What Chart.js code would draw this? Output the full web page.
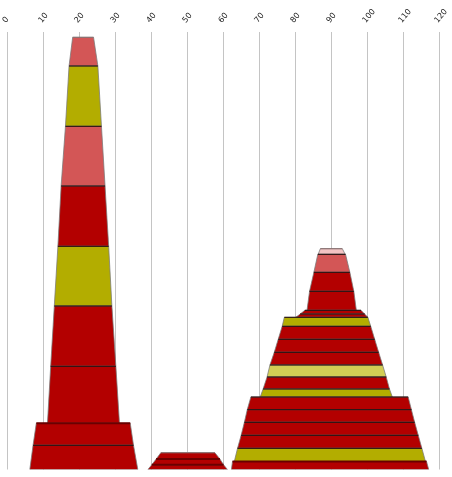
<!DOCTYPE html>
<html>
<head>
<meta charset="utf-8">
<script src="https://cdn.jsdelivr.net/npm/chart.js@4/dist/chart.umd.min.js"></script>
<style>
  html, body { margin: 0; padding: 0; background: #fff; }
  #wrap { width: 452px; height: 477px; }
</style>
</head>
<body>
<div id="wrap"><canvas id="chart" width="452" height="477"></canvas></div>
<script>
// top axis
const xMin = 0;
const xMax = 120;
const xStep = 10;

// every tier is one tapered block; values go bottom -> top
// heights of the layer boundaries
const tierLevels = [
  [0, 24.2, 46.2],
  [46.2, 103.2, 163.5, 223.2, 283.5, 343.2, 403.5, 432.2],
  [0, 4.8, 10.5, 16.8],
  [0, 8],
  [8, 21.2, 34.2, 47.2, 59.8, 72.5],
  [72.5, 80.5, 92.5, 104.5, 117.2, 130.2, 143.2, 152.2],
  [152.2, 155.5, 159.2],
  [159.2, 178.2, 197.2, 215.2],
  [215.2, 220.8]
];
// left x at each boundary
const tierLeft = [
  [6.2, 7.1, 8.0],
  [11.1, 12.0, 13.0, 14.0, 14.9, 16.1, 17.1, 18.1],
  [39.0, 40.1, 41.3, 42.6],
  [62.2, 62.5],
  [63.0, 63.9, 64.9, 65.8, 66.6, 67.6],
  [70.2, 71.0, 72.1, 72.9, 74.1, 75.2, 76.3, 76.9],
  [80.1, 81.3, 82.6],
  [83.2, 83.9, 85.1, 86.2],
  [86.3, 86.9]
];
// right x at each boundary
const tierRight = [
  [36.2, 35.0, 34.1],
  [31.1, 30.1, 29.0, 28.1, 27.1, 26.1, 25.1, 23.9],
  [61.1, 60.0, 59.0, 57.6],
  [117.0, 116.4],
  [116.1, 115.1, 114.1, 113.1, 112.2, 111.3],
  [106.9, 106.1, 105.2, 104.2, 103.1, 102.0, 100.9, 100.1],
  [100.1, 99.2, 98.2],
  [96.9, 96.2, 95.1, 93.9],
  [93.8, 93.0]
];

// colours
const RED = '#b30000', OLIVE = '#b3ad00', LRED = '#d35656', LOLIVE = '#d2cd55', PINK = '#f3c3c3';
const DK = '#1c0505', DKRED = '#6a0000', GREY = '#8a7070';
const tierFills = [
  [RED, RED],
  [RED, RED, OLIVE, RED, LRED, OLIVE, LRED],
  [RED, RED, RED],
  [RED],
  [OLIVE, RED, RED, RED, RED],
  [OLIVE, RED, LOLIVE, RED, RED, RED, OLIVE],
  [RED, RED],
  [RED, RED, LRED],
  [PINK]
];
// line along the top of each layer
const tierEdges = [
  [DK, DKRED],
  [DK, DK, DK, DK, DK, DK, GREY],
  [DKRED, DKRED, GREY],
  [DKRED],
  [DK, DK, DK, DK, DK],
  [DK, DK, DK, DK, DK, DK, DK],
  [DK, DK],
  [DK, DK, DK],
  [GREY]
];

const shapes = [];
const edges = [];
tierLevels.forEach((lv, t) => {
  for (let i = 0; i < lv.length - 1; i++) {
    const bl = { x: tierLeft[t][i], y: lv[i] };
    const tl = { x: tierLeft[t][i + 1], y: lv[i + 1] };
    const tr = { x: tierRight[t][i + 1], y: lv[i + 1] };
    const br = { x: tierRight[t][i], y: lv[i] };
    shapes.push({
      data: [bl, tl, tr, br, bl],
      backgroundColor: tierFills[t][i],
      borderColor: 'rgba(120,120,120,0.75)',
      borderWidth: 1,
      fill: 'shape',
      pointRadius: 0,
      order: 2
    });
    const ec = tierEdges[t][i];
    edges.push({
      data: [tl, tr],
      borderColor: ec,
      borderWidth: ec === DKRED ? 2 : 1,
      fill: false,
      pointRadius: 0,
      order: 1
    });
  }
});

new Chart(document.getElementById('chart'), {
  type: 'line',
  data: { datasets: shapes.concat(edges) },
  options: {
    responsive: false,
    animation: false,
    devicePixelRatio: 1,
    layout: { autoPadding: false, padding: { left: 7.5, right: 12.5, top: 0, bottom: 7.5 } },
    plugins: { legend: { display: false }, tooltip: { enabled: false } },
    elements: { line: { tension: 0 } },
    scales: {
      x: {
        type: 'linear',
        position: 'top',
        min: xMin,
        max: xMax,
        ticks: {
          stepSize: xStep,
          autoSkip: false,
          minRotation: 50,
          maxRotation: 50,
          padding: 7,
          labelOffset: 4,
          color: '#222',
          font: { family: 'DejaVu Sans', size: 8 }
        },
        grid: { color: '#c4c4c4', drawTicks: false },
        border: { display: false },
        afterFit: (s) => { s.height = 32; s.paddingLeft = 0; s.paddingRight = 0; }
      },
      y: { type: 'linear', min: 0, max: 437.5, display: false }
    }
  }
});
</script>
</body>
</html>
